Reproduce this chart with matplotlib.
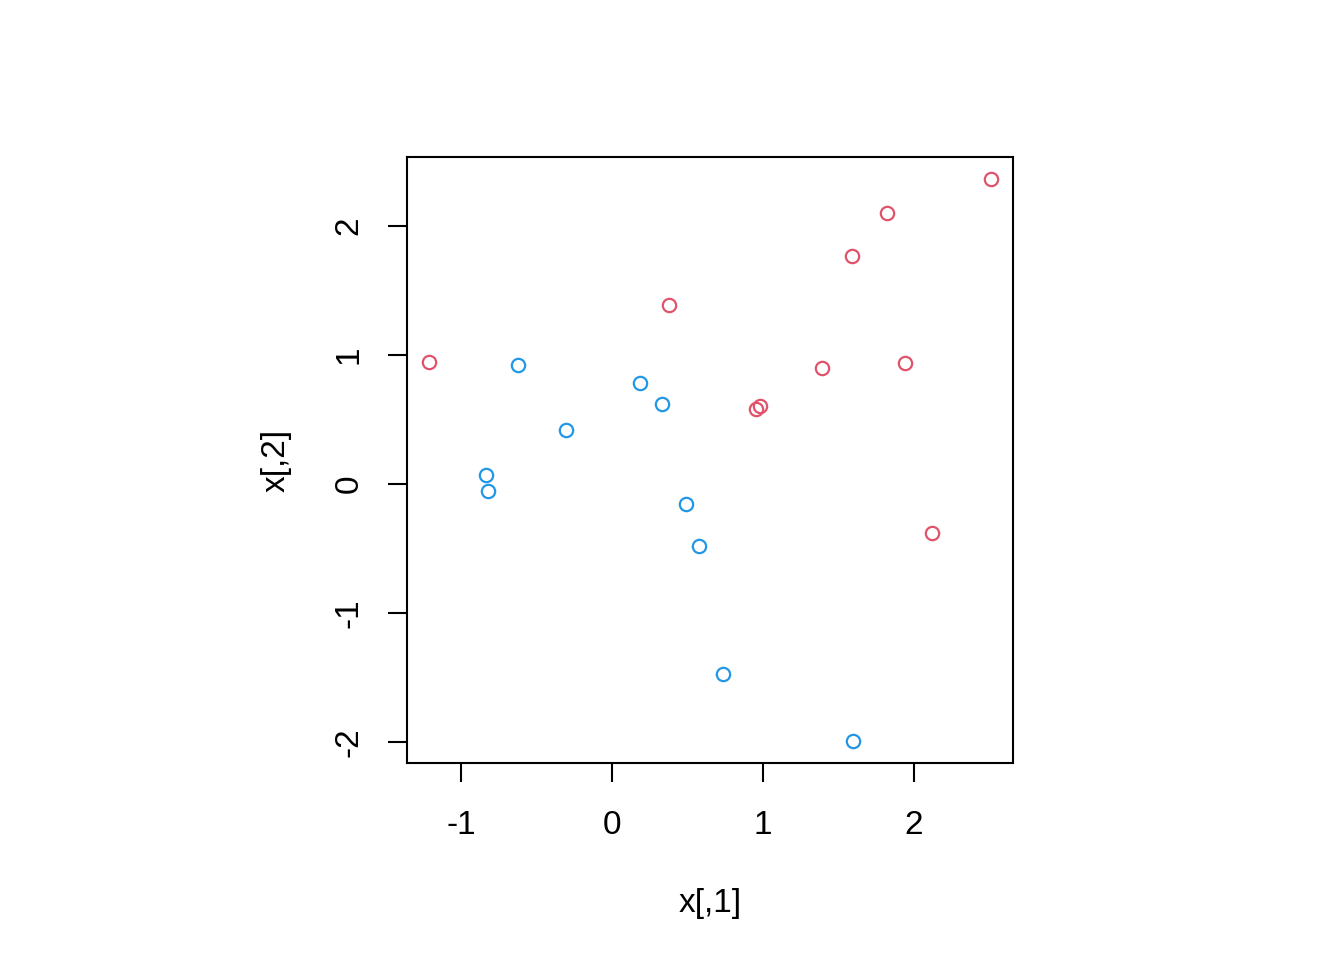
import numpy as np
import matplotlib.pyplot as plt

plt.rcParams['font.family'] = ['Liberation Sans', 'DejaVu Sans']

# group 1 (red)
x1_red = [-1.212, 0.377, 0.954, 0.980, 1.391, 1.589, 1.821, 1.940, 2.119, 2.510]
x2_red = [0.946, 1.388, 0.581, 0.605, 0.899, 1.767, 2.101, 0.938, -0.380, 2.364]
# group 2 (blue)
x1_blue = [-0.623, -0.834, -0.821, -0.305, 0.185, 0.331, 0.490, 0.576, 0.735, 1.596]
x2_blue = [0.922, 0.070, -0.054, 0.419, 0.783, 0.620, -0.155, -0.481, -1.473, -1.992]

xticks = [-1, 0, 1, 2]
yticks = [-2, -1, 0, 1, 2]

fig = plt.figure(figsize=(13.44, 9.6), dpi=100)
ax = fig.add_axes((0.3028, 0.2052, 0.4509, 0.6313))

ax.plot(x1_red, x2_red, 'o', mfc='none', mec='#DF536B', ms=9.6, mew=1.6)
ax.plot(x1_blue, x2_blue, 'o', mfc='none', mec='#2297E6', ms=9.6, mew=1.6)

ax.set_xlim(-1.358, 2.656)
ax.set_ylim(-2.163, 2.535)
ax.set_xticks(xticks)
ax.set_yticks(yticks)
ax.set_xticklabels([str(t) for t in xticks])
ax.set_yticklabels([str(t) for t in yticks], rotation=90, va='center')
ax.tick_params(length=13.7, width=1.5, labelsize=24)
ax.tick_params(axis='x', pad=20)
ax.tick_params(axis='y', pad=17)
for s in ax.spines.values():
    s.set_linewidth(1.5)

ax.set_xlabel('x[,1]', fontsize=24, labelpad=34)
ax.set_ylabel('x[,2]', fontsize=24, labelpad=30)

fig.savefig('out.png', dpi=100)
